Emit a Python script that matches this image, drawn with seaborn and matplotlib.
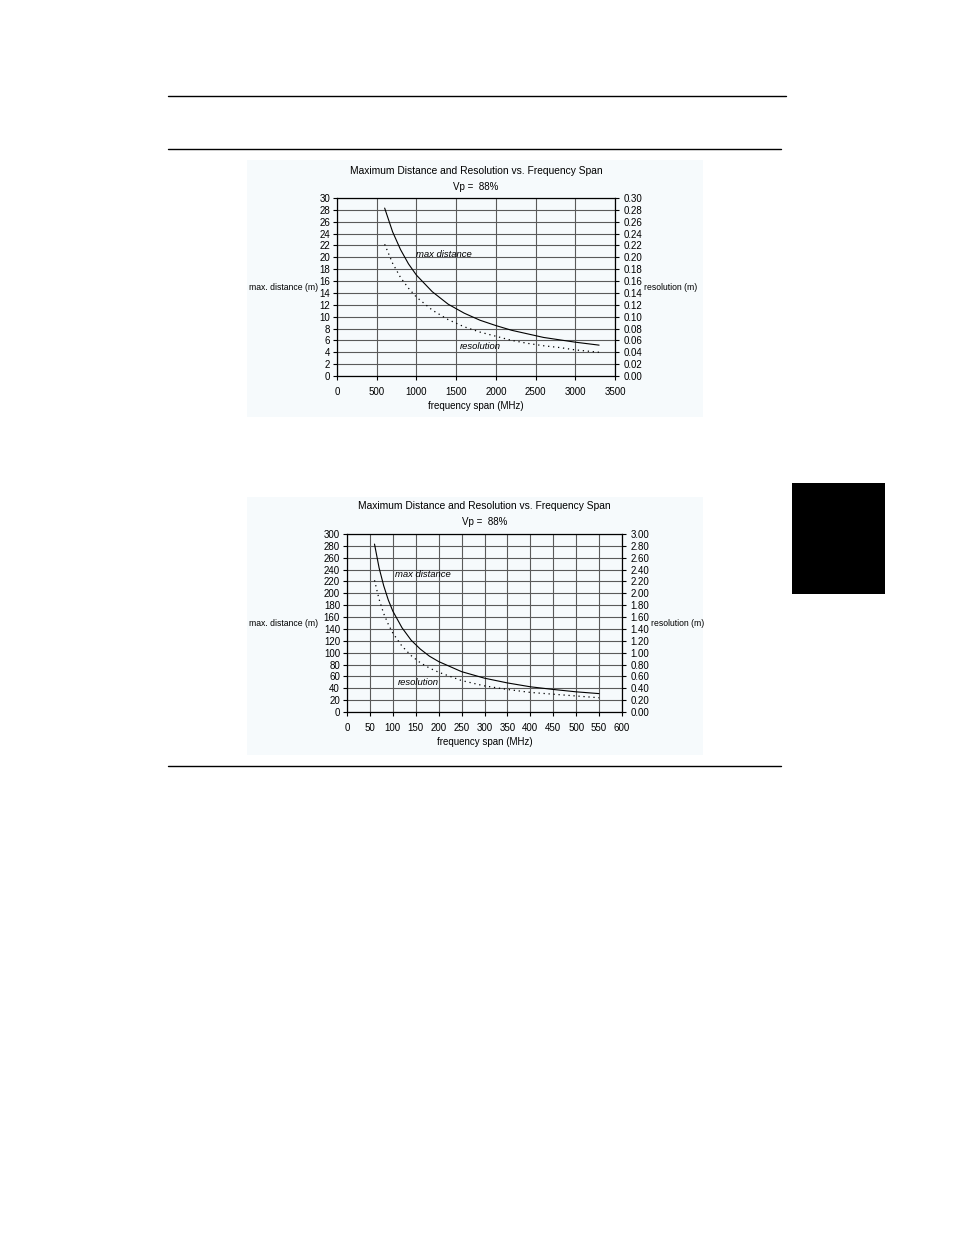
import matplotlib
matplotlib.use("Agg")
import matplotlib.pyplot as plt
from matplotlib.lines import Line2D
from matplotlib.patches import Rectangle
import seaborn as sns
import pandas as pd

# values (two charts, Vp = 88%)
freq_1 = [600, 700, 800, 900, 1000, 1200, 1400, 1600, 1800, 2000, 2200, 2400, 2600, 2800, 3000, 3300]
max_dist_1 = [28.3, 24.3, 21.3, 18.9, 17.0, 14.2, 12.1, 10.6, 9.4, 8.5, 7.7, 7.1, 6.5, 6.1, 5.7, 5.2]
resolution_1 = [0.222, 0.190, 0.166, 0.148, 0.133, 0.111, 0.095, 0.083, 0.074, 0.067, 0.060, 0.055, 0.051, 0.048, 0.044, 0.040]

freq_2 = [60, 70, 80, 90, 100, 120, 140, 160, 180, 200, 250, 300, 350, 400, 450, 500, 550]
max_dist_2 = [283, 243, 213, 189, 170, 142, 121, 106, 94, 85, 68, 57, 49, 42.5, 38, 34, 31]
resolution_2 = [2.22, 1.90, 1.66, 1.48, 1.33, 1.11, 0.95, 0.83, 0.74, 0.67, 0.53, 0.44, 0.38, 0.33, 0.30, 0.27, 0.24]

title = "Maximum Distance and Resolution vs. Frequency Span"
subtitle = "Vp =  88%"

W, H = 954, 1235
sns.set_theme(style="white")
plt.rcParams['font.family'] = ['Liberation Sans', 'DejaVu Sans']
plt.rcParams['text.color'] = 'black'
plt.rcParams['xtick.color'] = 'black'
plt.rcParams['ytick.color'] = 'black'

fig = plt.figure(figsize=(W / 100, H / 100), dpi=100)
fig.patch.set_facecolor('white')

FS = 7  # tick / axis label size


def fx(px):
    return px / W


def fy(py):
    return 1 - py / H


def hline(x0, x1, y, lw=1.0):
    fig.add_artist(Line2D([fx(x0), fx(x1)], [fy(y), fy(y)], color='black', lw=lw))


# page furniture
hline(168, 786, 96)
hline(168, 781, 149)
hline(168, 781, 766)
fig.add_artist(Rectangle((fx(792), fy(594)), fx(885) - fx(792), fy(483) - fy(594),
                         transform=fig.transFigure, color='black', lw=0))


def draw_chart(box, bg, freq, dist, res, xmax, xstep, ymax, ystep, rfmt,
               title_y, lbl_dist, lbl_res):
    x0, y0, x1, y1 = box
    fig.add_artist(Rectangle((fx(bg[0]), fy(bg[3])), fx(bg[2]) - fx(bg[0]), fy(bg[1]) - fy(bg[3]),
                             transform=fig.transFigure, color='#f6fafc', lw=0, zorder=-5))
    ax = fig.add_axes([fx(x0), fy(y1), fx(x1) - fx(x0), fy(y0) - fy(y1)])
    ax.set_facecolor('none')
    df = pd.DataFrame({'freq': freq, 'dist': dist, 'res': res})

    ax.set_xlim(0, xmax)
    ax.set_ylim(0, ymax)
    xt = list(range(0, xmax + 1, xstep))
    yt = [i * ystep for i in range(int(round(ymax / ystep)) + 1)]
    ax.set_xticks(xt)
    ax.set_yticks(yt)
    ax.set_yticklabels([f"{int(v)}" for v in yt])
    ax.grid(True, color='#5a5a5a', lw=0.8)
    ax.set_axisbelow(True)
    for s in ax.spines.values():
        s.set_color('black')
        s.set_linewidth(0.9)
    ax.tick_params(axis='both', direction='out', length=3, width=0.8, color='black',
                   labelsize=FS, pad=2, left=True, bottom=True)
    ax.tick_params(axis='x', pad=5)

    sns.lineplot(data=df, x='freq', y='dist', ax=ax, color='black', lw=0.8)
    ax.set_xlabel('')
    ax.set_ylabel('')

    ax2 = ax.twinx()
    ax2.set_ylim(0, ymax / 100)
    ax2.set_yticks([v / 100 for v in yt])
    ax2.set_yticklabels([rfmt.format(v / 100) for v in yt])
    ax2.tick_params(axis='y', direction='out', length=3, width=0.8, color='black',
                    labelsize=FS, pad=3, right=True)
    ax2.grid(False)
    for s in ax2.spines.values():
        s.set_visible(False)
    sns.lineplot(data=df, x='freq', y='res', ax=ax2, color='black', lw=0.9,
                 linestyle=(0, (1, 3)))
    ax2.set_ylabel('')

    ax.text(lbl_dist[0], lbl_dist[1], 'max distance', fontsize=6.8, style='italic',
            ha='left', va='center')
    ax.text(lbl_res[0], lbl_res[1], 'resolution', fontsize=6.8, style='italic',
            ha='left', va='center')

    cx = (x0 + x1) / 2
    cy = (y0 + y1) / 2
    fig.text(fx(cx), fy(title_y), title, fontsize=7.4, ha='center', va='center')
    fig.text(fx(cx), fy(title_y + 16), subtitle, fontsize=FS, ha='center', va='center')
    fig.text(fx(cx), fy(y1 + 30), 'frequency span (MHz)', fontsize=FS, ha='center', va='center')
    fig.text(fx(249), fy(cy), 'max. distance (m)', fontsize=6.2, ha='left', va='center')
    fig.text(fx(x1 + 29), fy(cy), 'resolution (m)', fontsize=6.2, ha='left', va='center')


draw_chart((337, 198, 615, 376), (247, 160, 703, 417), freq_1, max_dist_1, resolution_1,
           3500, 500, 30, 2, "{:.2f}", 171, (1000, 20.5), (1550, 4.9))
draw_chart((347, 534, 622, 712), (247, 497, 703, 755), freq_2, max_dist_2, resolution_2,
           600, 50, 300, 20, "{:.2f}", 506, (105, 231), (111, 50))

fig.savefig('out.png', dpi=100, facecolor='white')
